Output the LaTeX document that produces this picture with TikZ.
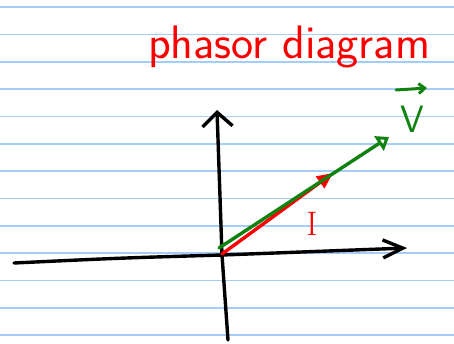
\documentclass[tikz,border=0pt]{standalone}
\usepackage{tikz}
\usetikzlibrary{arrows.meta}
\definecolor{ruleblue}{RGB}{166,204,248}
\definecolor{penred}{RGB}{250,0,0}
\definecolor{pengreen}{RGB}{16,130,16}

\begin{document}
\begin{tikzpicture}[x=1pt,y=-1pt,line cap=round,line join=round,
		ruled/.style={draw=ruleblue,line width=1.6pt},
		axis/.style={draw=black,line width=3.4pt},
		redpen/.style={draw=penred,line width=3.4pt},
		greenpen/.style={draw=pengreen,line width=3.4pt}]
				\useasboundingbox (0,0) rectangle (454,343);
				\fill[white] (0,0) rectangle (454,343);
				% the ruled paper
				\foreach \k in {0,...,12}
					\draw[ruled] (0,{7+27.35*\k}) -- (454,{7+27.35*\k});
				% heading
				\node[penred,anchor=base west,inner sep=0pt,font=\fontsize{47}{47}\sffamily] (title) at (148,58) {phasor diagram};
				% the axes
				\coordinate (O) at (222,255);
				\coordinate (xleft) at (14,263);
				\coordinate (xright) at (407,248);
				\coordinate (ybot) at (228,340);
				\coordinate (ytop) at (217,110);
				\draw[axis,-{Straight Barb[length=20pt,width=18pt]}] (xleft) .. controls (120,258) .. (O) -- (xright);
				\draw[axis,-{Straight Barb[length=14pt,width=30pt]}] (ybot) -- (O) -- (ytop);
				% current phasor, under the voltage one
				\coordinate (istart) at (222,254);
				\coordinate (itip) at (333,173);
				\draw[redpen,-{Triangle[length=16pt,width=14pt]}] (istart) -- (itip);
				\node[text=penred,font=\fontsize{34}{34}\selectfont] (ilab) at (312,224) {I};
				% voltage phasor
				\coordinate (vstart) at (219,248);
				\coordinate (vtip) at (389,137);
				\draw[greenpen,-{Triangle[open,length=12pt,width=17pt]}] (vstart) -- (vtip);
				\node[text=pengreen,font=\fontsize{38}{38}\sffamily] (vlab) at (412,119) {V};
				\coordinate (vbarl) at (396,90);
				\coordinate (vbarr) at (427,88);
				\draw[greenpen,line width=3pt,-{Straight Barb[length=6pt,width=10pt]}] (vbarl) -- (vbarr);
			\end{tikzpicture}
\end{document}
